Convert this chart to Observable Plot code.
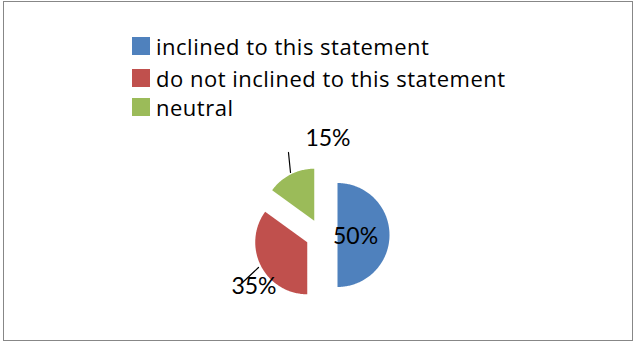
<!DOCTYPE html>
<html><head><meta charset="utf-8">
<script src="https://cdn.jsdelivr.net/npm/d3@7"></script>
<script src="https://cdn.jsdelivr.net/npm/@observablehq/plot@0.6"></script>
<style>
body{margin:0;background:#fff;}
#wrap{position:relative;width:633px;height:343px;overflow:hidden;font-family:"Open Sans",Lato,sans-serif;background:#fff;}
#frame{position:absolute;left:3px;top:1px;width:630px;height:340px;border:1px solid #878787;box-sizing:border-box;}
#chart{position:absolute;left:0;top:0;}
.row{position:absolute;left:132px;display:flex;align-items:center;height:18px;}
.sw{width:18px;height:18px;margin-right:6px;flex:none;}
.lab{font-size:22px;letter-spacing:0.5px;color:#000;white-space:nowrap;line-height:18px;}
</style></head>
<body>
<div id="wrap"><div id="frame"></div><div id="chart"></div><div id="legend"></div></div>
<script>
const categories = ["inclined to this statement", "do not inclined to this statement", "neutral"];
const values = [50, 35, 15];
const labels = ["50%", "35%", "15%"];
const colors = ["#4F81BD", "#C0504D", "#9BBB59"];

// layout (styling, not data)
const W = 633, H = 343, R = 52, CX = 321, CY = 234.5, EXPLODE = 16 / 52;
// label positions & leader lines, in pie-radius units relative to the pie centre
const labelPos = [[0.654, -0.04], [-1.298, -0.99], [0.125, 1.856]];
const leaderPos = [null, [[-1.212, -0.625], [-1.519, -0.913]], [[-0.635, 1.587], [-0.596, 1.202]]];

const total = d3.sum(values);
let acc = 0;
const slices = values.map((v, i) => {
  const a0 = acc / total * 2 * Math.PI;
  acc += v;
  const a1 = acc / total * 2 * Math.PI;
  const mid = (a0 + a1) / 2;
  const ox = EXPLODE * Math.sin(mid), oy = EXPLODE * Math.cos(mid);
  const pts = [{x: ox, y: oy}];
  const n = Math.max(8, Math.ceil((a1 - a0) / (Math.PI / 180)));
  for (let k = 0; k <= n; k++) {
    const a = a0 + (a1 - a0) * k / n;
    pts.push({x: ox + Math.sin(a), y: oy + Math.cos(a)});
  }
  return {i, pts};
});

const textData = labels.map((t, i) => ({t, x: labelPos[i][0], y: labelPos[i][1]}));
const leaders = [];
leaderPos.forEach((l, i) => { if (l) l.forEach(p => leaders.push({i, x: p[0], y: p[1]})); });

const marks = slices.map(s => Plot.line(s.pts, {x: "x", y: "y", fill: colors[s.i], stroke: "none", curve: "linear-closed"}));
marks.push(Plot.line(leaders, {x: "x", y: "y", z: "i", stroke: "#000", strokeWidth: 1.2}));
marks.push(Plot.text(textData, {x: "x", y: "y", text: "t", fontSize: 23, fontFamily: "Lato, sans-serif", fill: "#000"}));

const chart = Plot.plot({
  width: W, height: H,
  marginTop: 0, marginRight: 0, marginBottom: 0, marginLeft: 0,
  x: {domain: [-CX / R, (W - CX) / R], range: [0, W], axis: null},
  y: {domain: [-(H - CY) / R, CY / R], range: [H, 0], axis: null},
  style: {background: "transparent"},
  marks
});
document.getElementById("chart").appendChild(chart);

const legend = document.getElementById("legend");
const rowTops = [37, 68.5, 98];
categories.forEach((c, i) => {
  const row = document.createElement("div");
  row.className = "row";
  row.style.top = rowTops[i] + "px";
  row.innerHTML = `<div class="sw" style="background:${colors[i]}"></div><div class="lab">${c}</div>`;
  legend.appendChild(row);
});
</script>
</body></html>
